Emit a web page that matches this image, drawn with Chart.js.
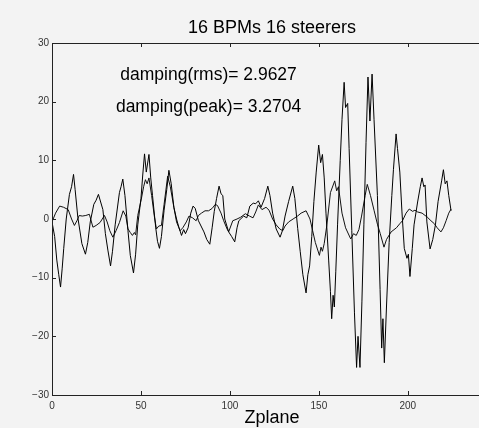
<!DOCTYPE html>
<html>
<head>
<meta charset="utf-8">
<script src="https://cdn.jsdelivr.net/npm/chart.js@4"></script>
<style>
  html, body { margin: 0; padding: 0; background: #f3f3f3; }
  #wrap { width: 479px; height: 428px; }
</style>
</head>
<body>
<div id="wrap"><canvas id="plot"></canvas></div>
<script>
// data
const titleText = "16 BPMs 16 steerers";
const xLabel = "Zplane";
const notes = ["damping(rms)= 2.9627", "damping(peak)= 3.2704"];
const notesX = 88;
const notesY = [24.5, 19];

const xTicks = [0, 50, 100, 150, 200];
const yTicks = [-30, -20, -10, 0, 10, 20, 30];

const xA = [0, 1.5, 2.7, 3.8, 4.8, 5.7, 6.6, 8, 9.8, 11, 12.1, 13, 14.5, 16.8, 18.8, 20.1, 21.5, 23.5, 24.8, 26.1,
  28.6, 30, 31.4, 32.9, 34, 35.5, 37.9, 38.8, 39.8, 41, 42.7, 44, 45.8, 47, 48.2, 50, 51, 52, 53, 54.5,
  55.5, 56.5, 58.3, 59.3, 60.4, 61.5, 63, 64.5, 65.7, 67, 68.5, 70, 71.3, 72.8, 74, 75, 76.5, 78, 79.3, 80.5,
  82.3, 85.4, 87, 88.7, 90, 91.2, 92.5, 93.9, 95, 96, 97.1, 99.3, 101, 102.7, 104, 105, 107.7, 109.5, 111.2, 113.1,
  114.5, 116, 117.5, 119.5, 121.3, 122.5, 124, 126, 128.2, 129.5, 131, 133, 135.3, 136.5, 138.1, 139.5, 141, 142.8, 143.8, 144.8,
  146, 147.2, 148.5, 149.9, 151, 152, 153, 154, 155.5, 156.5, 157.2, 158, 158.7, 159.5, 160.5, 162, 163, 164.2, 165, 166.2,
  167, 168.5, 170, 171.2, 172, 173.1, 174.2, 175.3, 176.5, 177.6, 178.7, 179.9, 181, 182.9, 184.4, 185.3, 186, 186.8, 188, 189.5,
  191, 191.9, 193.4, 194.2, 195.5, 196.7, 198, 199.5, 200.3, 201.2, 202.5, 203.5, 205.5, 207, 208, 209, 209.7, 210.7, 212.5, 214,
  215.5, 217, 219, 220, 221, 222, 223, 224.3];
const yA = [-0.5, -3, -7, -9.5, -11.6, -8.5, -5, 0, 4.2, 5.5, 7.6, 5, 0.3, -4.2, -6, -4, -0.5, 2.5, 3.2, 4.2,
  1.6, -2.5, -5.3, -8, -5.5, -1, 4.5, 5.5, 6.8, 4, -2, -6.2, -9.2, -6, -1, 3.5, 7.5, 11.1, 8, 11,
  7, 4, -1.5, -3.8, -5, -3, 1.5, 5, 8.3, 6, 2, 0, -1.4, -2.8, -1.8, -2.5, -1.5, 1, 2.2, 1.8,
  -0.3, -2.2, -3.5, -4.3, -1.5, 1.3, 3.5, 5.6, 4.3, 4.0, 0, -2.2, -3, -3.9, -1.5, -0.3, 0.5, 0.2, 2.2, 2.7,
  2.6, 3.1, 2, 3.5, 5.6, 4, 1, -1.7, -3.1, -2, 0.5, 3, 5.6, 3.5, -1.6, -5.5, -9.5, -12.6, -9.5, -8,
  -3, 3, 8, 12.6, 9.6, 11, 7, 1, -7, -12.4, -17, -13, -15, -9, -1, 10, 17, 23.3, 19, 19.7,
  12, -2, -16, -25.3, -20, -25.3, -14, -1, 13, 24.2, 16.7, 24.7, 17, 4, -12, -22, -17, -24.5, -15, -4,
  4, 8.4, 14.5, 12, 8, 1.2, -5, -6.7, -6, -9.8, -5, -1, 2.9, 5.5, 7, 5.5, 5.8, -0.5, -5.1, -3.5,
  -1, 3, 6.5, 8.4, 6, 6.5, 4, 1.4];

const xB = [0, 2, 4.3, 6.5, 9.1, 11, 12.6, 14, 15.3, 17, 19, 21, 23, 24.8, 27, 29.5, 31, 32.5, 34.2, 36,
  37.9, 40, 41.5, 42.7, 44, 45.2, 46.3, 47, 48.2, 50.2, 51.5, 52.5, 53.5, 54.5, 56, 57.5, 58.7, 60, 61.5, 63,
  65, 66.5, 68.5, 70, 72, 73.5, 75.5, 77, 79, 81, 82.3, 84, 86, 88, 90, 91.8, 93, 95, 96.5, 98.4,
  99.3, 101.6, 104, 106, 108.7, 111, 113, 114.5, 116, 118, 120.3, 122, 124, 126, 128, 129.7, 131, 133, 135.5, 138,
  140, 142.8, 145, 146.5, 148, 150.3, 151.2, 152, 153, 154.5, 156.5, 158.9, 160, 161, 163, 165, 167.9, 169.5, 171, 172.5,
  174, 176, 177.2, 179, 181, 183, 184.5, 186.6, 188, 190.6, 193.6, 195.5, 197, 199, 200.8, 202.7, 204, 205.5, 208, 211,
  213, 214.9, 216.5, 218.6, 220, 221.5, 223, 224.3];
const yB = [-0.5, 1, 2.2, 2, 1.6, 0, -1.1, -0.3, 0.6, 0.5, 0.6, 0.8, -1.4, -1.1, -0.6, 0.6, -0.5, -2, -3.1, -2,
  -0.6, 1.4, 0.5, -1.7, -2.3, -2.8, -2.3, -2.7, 0.6, 3.4, 5.5, 6.7, 6, 7, 4, 0.5, -1.7, -1.2, -1.1, 2.5,
  7.3, 5.5, 2, -0.5, -2, -1.5, -0.5, 0.5, 0.2, -0.3, 0.6, 1, 1.4, 1.4, 1.8, 2.5, 2.3, 1, -0.3, -1.7,
  -2.2, -0.3, 0, 0.3, 0.9, 0.5, 0.2, 1.2, 2.4, 1.6, 2, 1.5, 0, -1, -1.7, -2.0, -1.2, -0.5, 0, 0.5,
  1.0, 1.4, 0, -2, -4, -6.2, -4.8, -5.5, -4.2, -1, 4.5, 6.5, 4.8, 5.5, 1, -1.5, -3.4, -2.5, -2.8, -1.8,
  0.5, 4, 5.9, 4, 1.5, -1, -2.5, -4.8, -3.5, -2.2, -1.5, -0.8, -0.3, 1, 1.7, 1.3, 1.5, 1.2, 1, 0.3,
  -0.3, -0.8, -1.5, -2.2, -1.5, -0.3, 1, 1.7];

const fontFamily = "'Liberation Sans', Arial, Helvetica, sans-serif";

function pts(xs, ys) {
  return xs.map((x, i) => ({ x: x, y: ys[i] }));
}

// matlab style box, inward ticks and the text labels
const matlabAxes = {
  id: "matlabAxes",
  beforeDraw(chart) {
    const { ctx } = chart;
    ctx.save();
    ctx.fillStyle = "#f3f3f3";
    ctx.fillRect(0, 0, chart.width, chart.height);
    ctx.restore();
  },
  afterDraw(chart) {
    const { ctx, chartArea: a, scales } = chart;
    const sx = scales.x, sy = scales.y;
    ctx.save();
    ctx.strokeStyle = "#222";
    ctx.lineWidth = 1;
    ctx.beginPath();
    ctx.moveTo(a.right + 2, a.top + 0.5);
    ctx.lineTo(a.left + 0.5, a.top + 0.5);
    ctx.lineTo(a.left + 0.5, a.bottom + 0.5);
    ctx.lineTo(a.right + 2, a.bottom + 0.5);
    xTicks.forEach(v => {
      const px = Math.round(sx.getPixelForValue(v)) + 0.5;
      ctx.moveTo(px, a.bottom); ctx.lineTo(px, a.bottom - 4);
      ctx.moveTo(px, a.top); ctx.lineTo(px, a.top + 4);
    });
    yTicks.forEach(v => {
      const py = Math.round(sy.getPixelForValue(v)) + 0.5;
      ctx.moveTo(a.left, py); ctx.lineTo(a.left + 4, py);
    });
    ctx.stroke();

    ctx.fillStyle = "#000";
    ctx.textAlign = "center";
    ctx.textBaseline = "middle";
    ctx.font = "18px " + fontFamily;
    ctx.fillText(titleText, 272, 28);
    ctx.font = "18px " + fontFamily;
    ctx.fillText(xLabel, 272, 418);
    ctx.font = "17.5px " + fontFamily;
    notes.forEach((t, i) => {
      ctx.fillText(t, sx.getPixelForValue(notesX), sy.getPixelForValue(notesY[i]));
    });
    ctx.restore();
  }
};

new Chart(document.getElementById("plot"), {
  type: "line",
  data: {
    datasets: [
      { data: pts(xA, yA), borderColor: "#000", borderWidth: 1, pointRadius: 0, tension: 0 },
      { data: pts(xB, yB), borderColor: "#111", borderWidth: 1, pointRadius: 0, tension: 0 }
    ]
  },
  options: {
    responsive: true,
    maintainAspectRatio: false,
    animation: false,
    layout: { padding: { top: 43, right: 0, left: 0, bottom: 0 } },
    plugins: { legend: { display: false }, tooltip: { enabled: false }, title: { display: false } },
    scales: {
      x: {
        type: "linear",
        min: 0,
        max: 240,
        afterBuildTicks: s => { s.ticks = xTicks.map(v => ({ value: v })); },
        afterFit: s => { s.height = 33; },
        grid: { display: false, drawTicks: false },
        border: { display: false },
        ticks: { padding: 5, color: "#333", font: { size: 10, family: fontFamily }, maxRotation: 0 }
      },
      y: {
        type: "linear",
        min: -30,
        max: 30,
        afterBuildTicks: s => { s.ticks = yTicks.map(v => ({ value: v })); },
        afterFit: s => { s.width = 52; },
        grid: { display: false, drawTicks: false },
        border: { display: false },
        ticks: { padding: 3, color: "#333", font: { size: 10, family: fontFamily }, callback: v => String(v).replace("-", "\u2212") }
      }
    }
  },
  plugins: [matlabAxes]
});
</script>
</body>
</html>
